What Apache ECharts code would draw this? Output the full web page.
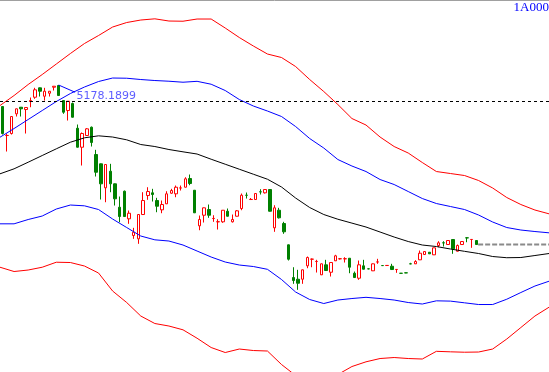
<!DOCTYPE html>
<html><head><meta charset="utf-8">
<script src="https://cdn.jsdelivr.net/npm/echarts@6/dist/echarts.min.js"></script>
<style>html,body{margin:0;padding:0;background:#fff}#c{width:549px;height:372px}</style>
</head><body><div id="c"></div>
<script>
const symbolName = '1A000';
const refLevel = 5178.1899;
const yMax = 6193.19, yMin = 2473.19;
const slotCount = 117;
const categories = Array.from({length: slotCount}, (_, i) => 'D' + (i + 1));
// [open, close, low, high]
const candles = [
[5128,4858,4848,5128],[4838,4839,4678,4858],[4858,5028,4848,5028],[5055,5105,5028,5108],
[5121,5105,5028,5123],[5098,5118,4858,5118],[5178,5188,5121,5218],[5221,5295,5205,5315],
[5315,5281,5228,5318],[5231,5281,5188,5315],[5261,5281,5228,5283],[5321,5331,5288,5333],
[5338,5238,5238,5343],[5188,5071,5055,5188],[5088,5181,4988,5183],[5158,5021,5018,5168],
[4911,4721,4718,4948],[4721,4858,4538,4868],[4838,4905,4833,4913],[4921,4768,4728,4928],
[4648,4471,4428,4695],[4555,4355,4198,4558],[4315,4548,4171,4553],[4481,4355,4271,4555],
[4355,4205,4138,4358],[4121,4028,3971,4228],[4281,4028,4023,4288],[4005,4061,3955,4088],
[3838,3871,3805,3915],[3805,4048,3755,4053],[4048,4188,4043,4271],[4238,4278,4195,4321],
[4265,4248,4178,4305],[4188,4131,4071,4215],[4095,4148,4061,4188],[4155,4255,4153,4281],
[4261,4288,4255,4305],[4255,4321,4221,4338],[4313,4314,4288,4338],[4321,4405,4318,4421],
[4408,4358,4341,4448],[4291,4065,4063,4293],[3935,3998,3891,4038],[4041,4115,3968,4118],
[4098,4041,4015,4148],[4008,4009,3975,4041],[3975,3976,3898,4001],[3975,4091,3965,4093],
[4081,4031,4028,4108],[3975,3998,3968,4048],[4031,4085,4028,4093],[4108,4241,4091,4258],
[4241,4240,4208,4268],[4198,4199,4193,4213],[4198,4258,4195,4263],[4275,4274,4248,4301],
[4265,4298,4258,4298],[4298,4081,4078,4298],[3915,4115,3875,4141],[4091,4015,4008,4115],
[3958,3875,3855,3975],[3745,3601,3588,3748],[3418,3388,3355,3521],[3401,3361,3295,3495],
[3401,3495,3355,3498],[3535,3618,3511,3628],[3601,3602,3521,3608],[3578,3579,3468,3595],
[3445,3555,3443,3558],[3545,3488,3483,3595],[3471,3568,3428,3573],[3585,3635,3583,3645],
[3605,3606,3598,3613],[3605,3606,3568,3621],[3611,3521,3461,3613],[3461,3418,3413,3478],
[3411,3545,3395,3588],[3535,3501,3498,3595],[3505,3504,3501,3508],[3485,3555,3483,3558],
[3573,3574,3555,3605],[3538,3537,3533,3543],[3538,3539,3533,3543],[3531,3498,3493,3555],
[3498,3499,3465,3501],[3461,3460,3458,3463],[3465,3464,3462,3467],[3555,3554,3552,3565],
[3555,3578,3553,3591],[3595,3661,3593,3688],[3648,3678,3645,3681],[3671,3655,3653,3673],
[3645,3715,3643,3717],[3738,3765,3721,3781],[3765,3764,3728,3781],[3748,3788,3746,3790],
[3798,3705,3655,3800],[3681,3738,3678,3748],[3748,3778,3746,3780],[3815,3814,3771,3821],
[3798,3799,3715,3800],[3788,3748,3746,3790]
];
// band sample positions, in day-slot units
const bandIdx = [-0.5,2.5,5.5,8.5,11.5,14.5,17.5,20.5,23.5,26.5,29.5,32.5,35.5,38.5,41.5,44.5,47.5,50.5,53.5,56.5,
  59.5,62.5,65.5,68.5,71.5,74.5,77.5,80.5,83.5,86.5,89.5,92.5,95.5,98.5,101.5,104.5,107.5,110.5,113.5,116.5];
const upperOuter = [5138,5238,5348,5448,5553,5658,5758,5838,5923,5968,5993,6005,5983,5981,6003,6003,5913,5818,5733,5653,
  5618,5528,5398,5278,5148,5008,4943,4823,4728,4663,4568,4478,4458,4438,4388,4313,4218,4148,4093,4055];
const upperInner = [4821,4908,4998,5088,5178,5258,5323,5378,5413,5411,5398,5388,5381,5371,5380,5351,5288,5198,5133,5083,
  5028,4928,4808,4713,4598,4533,4478,4398,4348,4278,4208,4158,4128,4098,4043,3973,3918,3893,3878,3865];
const middle = [4455,4505,4571,4638,4705,4771,4815,4835,4823,4795,4748,4728,4698,4675,4653,4601,4551,4501,4451,4401,
  4323,4213,4118,4048,4001,3962,3923,3873,3823,3778,3743,3728,3703,3680,3658,3628,3616,3618,3638,3658];
const lowerInner = [3955,3955,3998,4033,4103,4143,4135,4098,4003,3918,3833,3795,3783,3743,3683,3623,3573,3543,3528,3500,
  3398,3273,3198,3158,3193,3208,3220,3208,3193,3168,3153,3185,3182,3165,3148,3148,3201,3268,3333,3381];
const lowerOuter = [3521,3478,3493,3521,3571,3568,3533,3463,3283,3168,3033,2958,2933,2895,2811,2718,2668,2703,2688,2683,
  2548,2438,2388,2368,2448,2528,2575,2608,2618,2608,2603,2680,2675,2671,2673,2703,2803,2918,3033,3121];
const leaderPts = [[12, 5343], [15.5, 5271]];
const labelPt = [15.5, 5228];
const lastClose = candles[candles.length - 1][1];
const lastLine = [[101.4, lastClose], [116.5, lastClose]];

function band(vals, color) {
  return { type: 'line', xAxisIndex: 1, data: bandIdx.map((x, i) => [x, vals[i]]),
    symbol: 'none', showSymbol: false, silent: true, z: 3,
    lineStyle: { color: color, width: 1 } };
}

const chart = echarts.init(document.getElementById('c'), null, { renderer: 'canvas' });
chart.setOption({
  animation: false,
  backgroundColor: '#ffffff',
  title: { text: symbolName, right: 0, top: 1, padding: 0,
    textStyle: { color: '#0000ff', fontFamily: 'Liberation Serif', fontSize: 13, fontWeight: 'normal' } },
  grid: { left: 0, right: 0, top: 0, bottom: 0 },
  xAxis: [
    { type: 'category', data: categories, boundaryGap: true, position: 'top',
      axisLine: { show: true, lineStyle: { color: '#a0a0a0', width: 1 } },
      axisTick: { show: false }, axisLabel: { show: false }, splitLine: { show: false } },
    { type: 'value', min: -0.5, max: slotCount - 0.5, show: false }
  ],
  yAxis: { type: 'value', min: yMin, max: yMax, show: false },
  series: [
    { type: 'candlestick', xAxisIndex: 0, data: candles, barWidth: 3, z: 2, silent: true,
      itemStyle: { color: '#ffffff', color0: '#008000', borderColor: '#ff0000', borderColor0: '#008000', borderWidth: 1 },
      markLine: { silent: true, symbol: ['none', 'none'], label: { show: false },
        lineStyle: { color: '#000000', type: [3, 3], width: 1 }, data: [{ yAxis: refLevel }] } },
    band(upperOuter, '#ff0000'),
    band(upperInner, '#0000ff'),
    band(middle, '#000000'),
    band(lowerInner, '#0000ff'),
    band(lowerOuter, '#ff0000'),
    { type: 'line', xAxisIndex: 1, data: leaderPts, symbol: 'none', silent: true, z: 3,
      lineStyle: { color: '#0000ff', width: 1 } },
    { type: 'scatter', xAxisIndex: 1, data: [labelPt], symbolSize: 1, silent: true, z: 4,
      itemStyle: { color: 'rgba(0,0,0,0)' },
      label: { show: true, position: 'right', distance: 1, formatter: () => refLevel.toFixed(4),
        color: '#3333ff', fontFamily: 'DejaVu Sans', fontSize: 11 } },
    { type: 'line', xAxisIndex: 1, data: lastLine, symbol: 'none', silent: true, z: 3,
      lineStyle: { color: '#8a8a8a', width: 2, type: [5, 2] } }
  ]
});
</script></body></html>
